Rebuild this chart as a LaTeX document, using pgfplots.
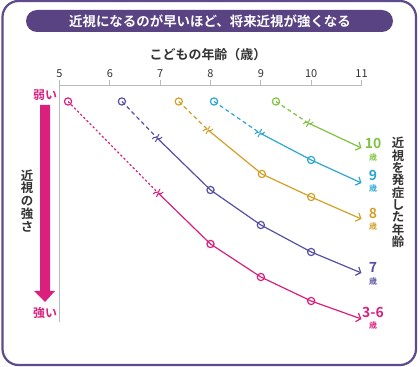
\documentclass[border=0pt]{standalone}
\usepackage{pgfplots}
\pgfplotsset{compat=1.18}
\usepackage{fontspec}
\setmainfont{Noto Sans CJK JP}[BoldFont={Noto Sans CJK JP Bold}]
\usetikzlibrary{arrows.meta}
\definecolor{cpink}{HTML}{DA1F7D}
\definecolor{cpurple}{HTML}{5550A3}
\definecolor{cgold}{HTML}{D3A029}
\definecolor{ccyan}{HTML}{2AA7D1}
\definecolor{cgreen}{HTML}{80C241}
\definecolor{cframe}{HTML}{5E4B8B}
\definecolor{cbanner}{HTML}{5A4383}
\definecolor{ctext}{HTML}{333333}
\pgfdeclareplotmark{brk}{%
  \pgfpathmoveto{\pgfpoint{-5pt}{-1pt}}%
  \pgfpathcurveto{\pgfpoint{-2.5pt}{3pt}}{\pgfpoint{0.3pt}{-2pt}}{\pgfpoint{1.8pt}{4pt}}%
  \pgfpathmoveto{\pgfpoint{-1.8pt}{-4pt}}%
  \pgfpathcurveto{\pgfpoint{-0.3pt}{2pt}}{\pgfpoint{2.5pt}{-3pt}}{\pgfpoint{5pt}{1pt}}%
  \pgfusepathqstroke}
\begin{document}
\begin{tikzpicture}[x=1bp,y=1bp]
\useasboundingbox (0,0) rectangle (420,367);
% outer frame
\draw[cframe, line width=2.2bp, rounded corners=16bp] (2.5,2) rectangle (416,366);
% banner
\fill[cbanner, rounded corners=11bp] (26,335) rectangle (393,357);
\node[text=white, font=\bfseries\fontsize{13.5}{14}\selectfont] at (210,346) {近視になるのが早いほど、将来近視が強くなる};
% x axis title
\node[text=ctext, font=\bfseries\fontsize{13}{13}\selectfont] at (208,312) {こどもの年齢（歳）};
\begin{axis}[
  at={(59.5bp,45bp)}, anchor=south west,
  width=302bp, height=237bp, scale only axis,
  xmin=5, xmax=11, ymin=45, ymax=282,
  axis x line=top, axis y line=left,
  axis line style={-, gray!55, line width=0.9bp},
  xtick={5,6,7,8,9,10,11}, ytick=\empty,
  tick align=outside, major tick length=5bp,
  tick style={gray!55, line width=0.9bp},
  x tick label style={font=\fontsize{11}{11}\selectfont, text=ctext, yshift=-1bp},
  /pgf/number format/assume math mode=true,
  clip=false,
]
% pink 3-6
\addplot[cpink, line width=1.2bp, dash pattern=on 2.2bp off 2.2bp] coordinates {(5.17,265.5) (6.96,174)};
\addplot[cpink, line width=1.2bp, -{Straight Barb[length=4bp,width=9bp]}] coordinates {(6.96,174) (8,123) (9,90) (10,66) (11,48)};
\addplot[cpink, only marks, mark=o, mark size=3.6bp, line width=1.2bp] coordinates {(5.17,265.5) (8,123) (9,90) (10,66)};
\addplot[cpink, only marks, mark=brk, line width=1bp] coordinates {(6.96,174)};
% purple 7
\addplot[cpurple, line width=1.2bp, dash pattern=on 4bp off 3bp] coordinates {(6.24,265.5) (6.94,229)};
\addplot[cpurple, line width=1.2bp, -{Straight Barb[length=4bp,width=9bp]}] coordinates {(6.94,229) (8,177) (9,142) (10,115) (11,94)};
\addplot[cpurple, only marks, mark=o, mark size=3.6bp, line width=1.2bp] coordinates {(6.24,265.5) (8,177) (9,142) (10,115)};
\addplot[cpurple, only marks, mark=brk, line width=1bp] coordinates {(6.94,229)};
% gold 8
\addplot[cgold, line width=1.2bp, dash pattern=on 4bp off 3bp] coordinates {(7.37,265.5) (7.95,237)};
\addplot[cgold, line width=1.2bp, -{Straight Barb[length=4bp,width=9bp]}] coordinates {(7.95,237) (9.02,193) (10,170) (11,148)};
\addplot[cgold, only marks, mark=o, mark size=3.6bp, line width=1.2bp] coordinates {(7.37,265.5) (9.02,193) (10,170)};
\addplot[cgold, only marks, mark=brk, line width=1bp] coordinates {(7.95,237)};
% cyan 9
\addplot[ccyan, line width=1.2bp, dash pattern=on 4bp off 3bp] coordinates {(8.07,265.5) (8.98,234)};
\addplot[ccyan, line width=1.2bp, -{Straight Barb[length=4bp,width=9bp]}] coordinates {(8.98,234) (10,207) (11,184)};
\addplot[ccyan, only marks, mark=o, mark size=3.6bp, line width=1.2bp] coordinates {(8.07,265.5) (10,207)};
\addplot[ccyan, only marks, mark=brk, line width=1bp] coordinates {(8.98,234)};
% green 10
\addplot[cgreen, line width=1.2bp, dash pattern=on 4bp off 3bp] coordinates {(9.30,265.5) (9.94,244)};
\addplot[cgreen, line width=1.2bp, -{Straight Barb[length=4bp,width=9bp]}] coordinates {(9.94,244) (11,219)};
\addplot[cgreen, only marks, mark=o, mark size=3.6bp, line width=1.2bp] coordinates {(9.30,265.5)};
\addplot[cgreen, only marks, mark=brk, line width=1bp] coordinates {(9.94,244)};
\end{axis}
% series labels
\node[text=cgreen, font=\bfseries\fontsize{14}{14}\selectfont] at (373,224) {10};
\node[text=cgreen, font=\bfseries\fontsize{8}{8}\selectfont] at (373,210) {歳};
\node[text=ccyan, font=\bfseries\fontsize{14}{14}\selectfont] at (373,192) {9};
\node[text=ccyan, font=\bfseries\fontsize{8}{8}\selectfont] at (373,179) {歳};
\node[text=cgold, font=\bfseries\fontsize{14}{14}\selectfont] at (373,154) {8};
\node[text=cgold, font=\bfseries\fontsize{8}{8}\selectfont] at (373,141) {歳};
\node[text=cpurple, font=\bfseries\fontsize{14}{14}\selectfont] at (373,100) {7};
\node[text=cpurple, font=\bfseries\fontsize{8}{8}\selectfont] at (373,86) {歳};
\node[text=cpink, font=\bfseries\fontsize{14}{14}\selectfont] at (373,55) {3-6};
\node[text=cpink, font=\bfseries\fontsize{8}{8}\selectfont] at (373,42) {歳};
% right vertical title
\node[text=ctext, font=\bfseries\fontsize{12.5}{12.4}\selectfont, align=center, inner sep=0pt] at (398,174.5) {近\\視\\を\\発\\症\\し\\た\\年\\齢};
% left vertical title
\node[text=ctext, font=\bfseries\fontsize{12.5}{13}\selectfont, align=center, inner sep=0pt] at (27,166) {近\\視\\の\\強\\さ};
% strength arrow
\fill[cpink] (40,262) -- (50,262) -- (50,76) -- (55,76) -- (45,65) -- (34,76) -- (40,76) -- cycle;
\node[text=cpink, font=\bfseries\fontsize{12}{12}\selectfont] at (45,272) {弱い};
\node[text=cpink, font=\bfseries\fontsize{12}{12}\selectfont] at (45,54) {強い};
\end{tikzpicture}
\end{document}
